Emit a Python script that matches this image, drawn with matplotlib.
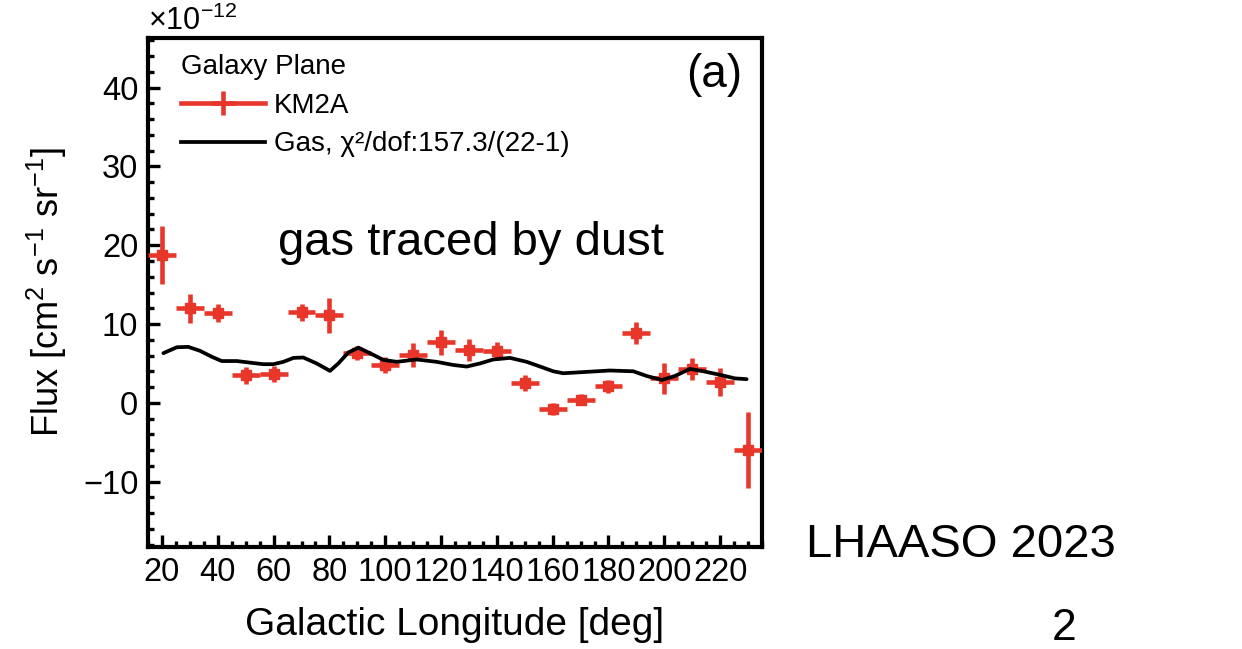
import numpy as np
import matplotlib
matplotlib.use("Agg")
import matplotlib.pyplot as plt
from matplotlib.lines import Line2D
from matplotlib.ticker import MultipleLocator

plt.rcParams["font.family"] = ["Liberation Sans", "DejaVu Sans"]
plt.rcParams["mathtext.fontset"] = "custom"
plt.rcParams["mathtext.rm"] = "Liberation Sans"
plt.rcParams["mathtext.it"] = "Liberation Sans:italic"

# KM2A flux points (units of 1e-12)
lon = [20, 30, 40, 50, 60, 70, 80, 90, 100, 110, 120,
       130, 140, 150, 160, 170, 180, 190, 200, 210, 220, 230]
flux = [18.8, 12.0, 11.4, 3.5, 3.7, 11.5, 11.1, 6.3, 4.8, 6.1, 7.7,
        6.7, 6.6, 2.5, -0.8, 0.4, 2.1, 8.9, 3.1, 4.3, 2.6, -6.0]
flux_err = [3.7, 1.85, 1.2, 1.05, 1.0, 1.1, 2.2, 0.85, 1.05, 1.5, 1.6,
            1.4, 1.15, 1.05, 0.75, 0.7, 0.8, 1.4, 2.0, 1.4, 1.8, 4.85]
lon_err = 5

# gas template curve
gas_lon = [20.5, 25.3, 29.4, 33.6, 37.8, 41.4, 46.8, 51.5, 56.3, 59.9, 63.5,
           67.1, 70.6, 75.4, 80.2, 83.2, 86.8, 90.4, 94.5, 99.3, 104.1,
           111.3, 118.4, 124.4, 129.2, 134.0, 138.7, 144.7, 150.7, 155.5,
           160.2, 163.8, 171.0, 180.5, 188.9, 193.7, 199.1, 203.8, 209.2,
           214.0, 220.0, 225.3, 229.5]
gas_flux = [6.3, 7.05, 7.1, 6.6, 5.85, 5.3, 5.3, 5.1, 4.9, 4.9, 5.2,
            5.7, 5.75, 5.0, 4.05, 5.0, 6.4, 7.0, 6.3, 5.45, 5.2,
            5.5, 5.2, 4.8, 4.6, 5.0, 5.5, 5.7, 5.2, 4.6,
            4.0, 3.75, 3.9, 4.1, 4.0, 3.4, 2.9, 3.4, 4.3,
            4.0, 3.55, 3.1, 3.0]

red = "#e8362b"

fig = plt.figure(figsize=(12.42, 6.49), dpi=100)
ax = fig.add_axes([0.1192, 0.1572, 0.4943, 0.7842])

ax.errorbar(lon, flux, yerr=flux_err, xerr=lon_err, fmt="s", color=red,
            ms=6.5, elinewidth=3.3, capsize=0, zorder=3)
ax.plot(gas_lon, gas_flux, color="black", lw=2.7, zorder=4,
        solid_joinstyle="round", solid_capstyle="round")

ax.set_xlim(15, 235)
ax.set_ylim(-18.3, 46.3)
ax.set_xticks(np.arange(20, 221, 20))
ax.xaxis.set_minor_locator(MultipleLocator(5))
ax.set_yticks([-10, 0, 10, 20, 30, 40])
ax.yaxis.set_minor_locator(MultipleLocator(2))

for s in ax.spines.values():
    s.set_linewidth(3)
ax.tick_params(which="both", direction="in", top=False, right=False,
               width=2.4, labelsize=23.5)
ax.tick_params(which="major", length=8.5)
ax.tick_params(which="minor", length=4.5)
ax.tick_params(axis="x", pad=7)
ax.tick_params(axis="y", pad=7)

ax.set_xlabel("Galactic Longitude [deg]", fontsize=28, labelpad=14)
ax.set_ylabel("Flux [cm$^{2}$ s$^{-1}$ sr$^{-1}$]", fontsize=26, labelpad=10)

handles = [Line2D([], [], color=red, lw=3.3, marker="+", ms=17, mew=3.3),
           Line2D([], [], color="black", lw=2.7)]
leg = ax.legend(handles, ["KM2A", "Gas, χ²/dof:157.3/(22-1)"],
                loc="upper left", frameon=False, fontsize=20,
                title="Galaxy Plane", title_fontsize=20, alignment="left",
                handlelength=3.05, handletextpad=0.3, labelspacing=0.45,
                borderaxespad=0.0, bbox_to_anchor=(0.035, 0.99))

ax.text(742 / 1242, 1 - 75 / 649, "(a)", transform=fig.transFigure,
        fontsize=33, ha="right", va="center")

fig.text(148 / 1242, 1 - 21 / 649, "×10$^{-12}$", fontsize=22,
         ha="left", va="center")
fig.text(471 / 1242, 1 - 243 / 649, "gas traced by dust", fontsize=34,
         ha="center", va="center")
fig.text(961 / 1242, 1 - 545 / 649, "LHAASO 2023", fontsize=34,
         ha="center", va="center")
fig.text(1064 / 1242, 1 - 628 / 649, "2", fontsize=32,
         ha="center", va="center")

fig.savefig("out.png", dpi=100)
